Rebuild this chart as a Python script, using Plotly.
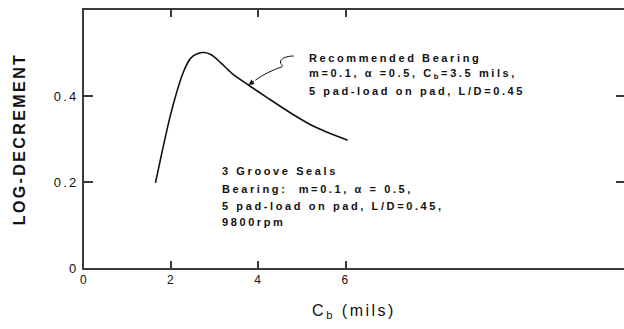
import plotly.graph_objects as go

# ---- data ----
cb_mils = [1.64, 2.00, 2.29, 2.45, 2.60, 2.75, 2.92, 3.14, 3.40, 3.78, 4.22, 4.75, 5.28, 6.05]
log_dec = [0.198, 0.362, 0.458, 0.488, 0.498, 0.501, 0.496, 0.477, 0.452, 0.425, 0.395, 0.360, 0.329, 0.297]

x_ticks = [0, 2, 4, 6]
y_ticks = [0, 0.2, 0.4]
y_tick_text = ["0", "0.2", "0.4"]

note1_lines = [
    "Recommended Bearing",
    "m=0.1, α =0.5, C<sub>b</sub>=3.5 mils,",
    "5 pad-load on pad, L/D=0.45",
]
note2_lines = [
    "3 Groove Seals",
    "Bearing:  m=0.1, α = 0.5,",
    "5 pad-load on pad, L/D=0.45,",
    "9800rpm",
]

FONT = "Liberation Sans, Arial, Helvetica, sans-serif"
INK = "#111111"
AX = "#3a3a3a"


def spaced(t, ls):
    return f"<span style='letter-spacing:{ls}px'>{t}</span>"


fig = go.Figure()
fig.add_trace(go.Scatter(
    x=cb_mils, y=log_dec, mode="lines",
    line=dict(color=INK, width=1.6, shape="spline", smoothing=0.8),
    showlegend=False, hoverinfo="skip",
))
# empty trace to host the right-hand tick axis
fig.add_trace(go.Scatter(x=[], y=[], yaxis="y2", showlegend=False))

note_font = dict(family=FONT, size=11, color=INK, weight="bold")
annotations = []
# note 1 (top right)
y_pos1 = [0.489, 0.451, 0.412]
for t, yy in zip(note1_lines, y_pos1):
    annotations.append(dict(x=5.11, y=yy, xref="x", yref="y", text=spaced(t, 2.6),
                            showarrow=False, xanchor="left", yanchor="middle",
                            font=note_font))
# note 2 (middle)
y_pos2 = [0.225, 0.184, 0.145, 0.107]
for t, yy in zip(note2_lines, y_pos2):
    annotations.append(dict(x=3.13, y=yy, xref="x", yref="y", text=spaced(t, 2.6),
                            showarrow=False, xanchor="left", yanchor="middle",
                            font=note_font))
# arrow head
annotations.append(dict(x=3.773, y=0.4256, ax=3.933, ay=0.437, xref="x", yref="y",
                        axref="x", ayref="y", text="", showarrow=True,
                        arrowhead=2, arrowsize=1.1, arrowwidth=1, arrowcolor=INK))

fig.update_layout(
    width=624, height=329,
    margin=dict(l=84, r=0, t=10, b=61),
    paper_bgcolor="white", plot_bgcolor="white",
    font=dict(family=FONT, color=INK),
    annotations=annotations,
    shapes=[dict(type="path", xref="x", yref="y",
                 path=("M 4.812 0.493 C 4.622 0.493 4.507 0.486 4.507 0.4791 "
                       "C 4.507 0.4721 4.599 0.4721 4.530 0.4674 "
                       "C 4.323 0.4605 4.094 0.4488 3.933 0.437"),
                 line=dict(color=INK, width=1))],
    xaxis=dict(
        range=[0, 12.39], tickvals=x_ticks, ticktext=[spaced(str(v), 1.5) for v in x_ticks],
        ticks="inside", ticklen=7, tickwidth=1.5, tickcolor=AX,
        showline=True, linewidth=2, linecolor=AX, mirror="ticks",
        showgrid=False, zeroline=False,
        tickfont=dict(size=12, color=INK),
        title=dict(text=spaced("C<sub>b</sub> (mils)", 2.5), font=dict(size=16, color=INK), standoff=18),
    ),
    yaxis=dict(
        range=[0, 0.6], tickvals=y_ticks, ticktext=[spaced(t, 2.2) for t in y_tick_text],
        ticks="inside", ticklen=9, tickwidth=1.5, tickcolor=AX,
        showline=True, linewidth=2, linecolor=AX,
        showgrid=False, zeroline=False, ticklabelstandoff=1,
        tickfont=dict(size=13, color=INK),
        title=dict(text=spaced("LOG-DECREMENT", 2.4), font=dict(size=16, color=INK, weight="bold"), standoff=24),
    ),
    yaxis2=dict(
        range=[0, 0.6], overlaying="y", side="right", tickvals=[0.2, 0.4],
        ticks="inside", ticklen=8, tickwidth=1.5, tickcolor=AX,
        showticklabels=False, showline=False, showgrid=False, zeroline=False,
    ),
)

fig.write_html("out.html")
